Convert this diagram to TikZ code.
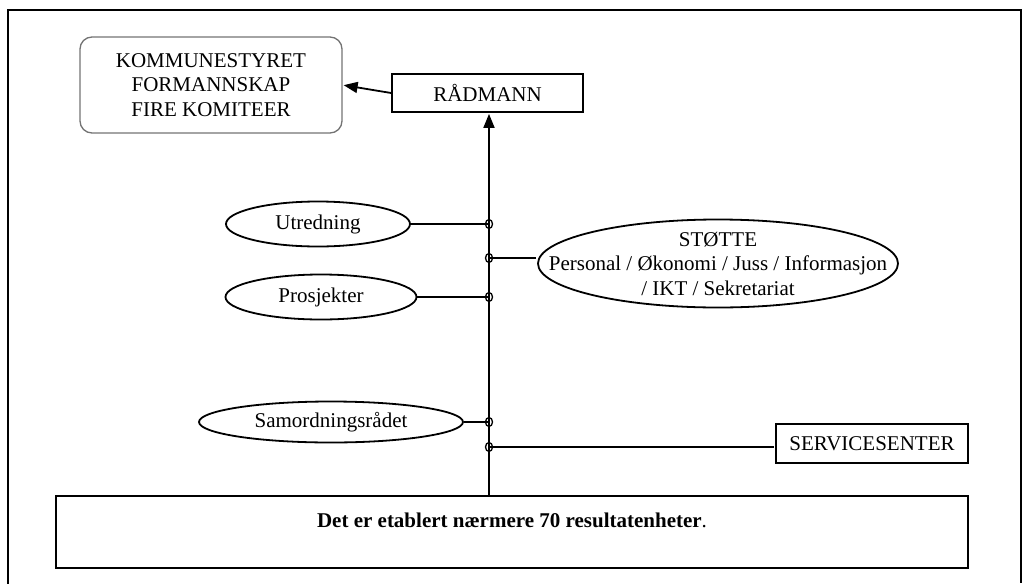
\documentclass[tikz,border=0pt]{standalone}
\usepackage{fontspec}
\setmainfont{Liberation Serif}
\usepackage{tikz}
\usetikzlibrary{arrows.meta,shapes.geometric}

\begin{document}
\begin{tikzpicture}[x=1pt,y=-1pt,>={Triangle[length=14pt,width=11pt]},shorten >=1pt,
  line width=1.8pt,font=\fontsize{21}{24.5}\selectfont,
  box node/.style={rectangle,draw,inner sep=0pt,align=center},
  round node/.style={rectangle,rounded corners=12pt,draw=black!55,line width=1.3pt,inner sep=0pt,align=center,
    minimum width=262pt,minimum height=96pt},
  oval node/.style={ellipse,draw,inner sep=0pt,align=center},
  joint node/.style={ellipse,draw,inner sep=0pt,minimum width=7pt,minimum height=9pt,line width=1.3pt}]
  \useasboundingbox (0,0) rectangle (1029,584);
  % frame
  \draw (8,584) -- (8,10) -- (1021,10) -- (1021,584);

  \node[round node] (kommune) at (211,85) {KOMMUNESTYRET\\FORMANNSKAP\\FIRE KOMITEER};
  \node[box node,minimum width=191pt,minimum height=38pt] (raadmann) at (487.5,93) {RÅDMANN};
  \node[oval node,minimum width=184pt,minimum height=45pt] (utredning) at (318,224) {Utredning};
  % the text runs up to the oval's edge here
  \node[oval node,inner xsep=-60pt,inner ysep=-12pt,minimum width=360pt,minimum height=88pt] (stotte) at (718,263.5)
    {STØTTE\\Personal / Økonomi / Juss / Informasjon\\/ IKT / Sekretariat};
  \node[oval node,minimum width=191pt,minimum height=45pt] (prosjekter) at (321,297) {Prosjekter};
  \node[oval node,minimum width=264pt,minimum height=41pt] (samordning) at (331,422) {Samordningsrådet};
  \node[box node,minimum width=192pt,minimum height=39pt] (service) at (872,443.5) {SERVICESENTER};
  \node[box node,minimum width=912pt,minimum height=72pt] (enheter) at (512,532)
    {\textbf{Det er etablert nærmere 70 resultatenheter}.\\\mbox{}};

  \draw[->] (raadmann.west) -- (kommune.east);
  \draw[->] (enheter.north -| 489,0) -- (raadmann.south -| 489,0);

  % joints on the line
  \coordinate (j1) at (489,224);
  \coordinate (j2) at (489,258);
  \coordinate (j3) at (489,297);
  \coordinate (j4) at (489,422);
  \coordinate (j5) at (489,447);

  \draw (utredning.east) -- (j1);
  \draw (j2) -- (j2 -| stotte.west);
  \draw (prosjekter.east) -- (j3);
  \draw (samordning.east) -- (j4);
  \draw (j5) -- (j5 -| service.west);

  \foreach \j in {j1,j2,j3,j4,j5}
    \node[joint node] at (\j) {};
\end{tikzpicture}
\end{document}
